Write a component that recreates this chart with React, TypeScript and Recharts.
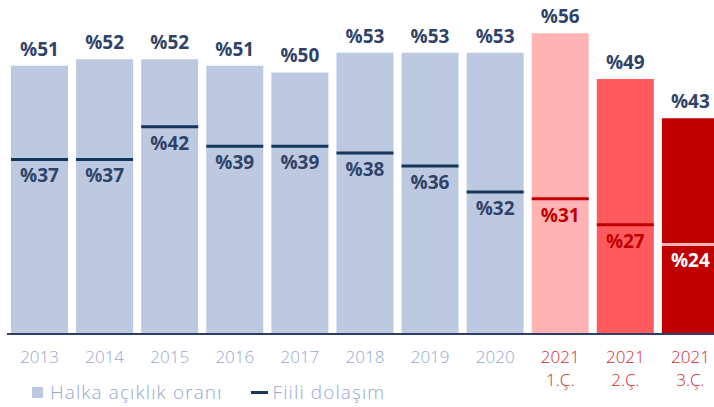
import {
  ComposedChart,
  Bar,
  Cell,
  XAxis,
  YAxis,
  LabelList,
} from "recharts";

const periods = [
  "2013",
  "2014",
  "2015",
  "2016",
  "2017",
  "2018",
  "2019",
  "2020",
  "2021\n1.Ç.",
  "2021\n2.Ç.",
  "2021\n3.Ç.",
];
const halkaAciklik = [51, 52, 52, 51, 50, 53, 53, 53, 56, 49, 43];
const fiiliDolasim = [37, 37, 42, 39, 39, 38, 36, 32, 31, 27, 24];

const NAVY = "#2f4368";
const LINE_NAVY = "#12375a";
const BLUE = "#bdc9e1";
const barColors = [BLUE, BLUE, BLUE, BLUE, BLUE, BLUE, BLUE, BLUE, "#ffb3b5", "#ff5b5f", "#c00000"];
const lineColors = [
  LINE_NAVY, LINE_NAVY, LINE_NAVY, LINE_NAVY, LINE_NAVY, LINE_NAVY, LINE_NAVY, LINE_NAVY,
  "#c00000", "#c00000", "#ffb3b5",
];
const innerLabelColors = [NAVY, NAVY, NAVY, NAVY, NAVY, NAVY, NAVY, NAVY, "#c00000", "#c00000", "#ffffff"];

const FONT = "'Open Sans', 'DejaVu Sans', sans-serif";

const data = periods.map((p, i) => ({
  name: p,
  halka: halkaAciklik[i],
  fiili: fiiliDolasim[i],
}));

function PeriodTick(props: any) {
  const { x, y, payload } = props;
  const lines = String(payload.value).split("\n");
  const isQuarter = lines.length > 1;
  return (
    <text
      x={x}
      y={y}
      textAnchor="middle"
      fill={isQuarter ? "#d3262d" : "#93a8d3"}
      fontSize={17}
      fontWeight={300}
      fontFamily={FONT}
    >
      {lines.map((l, i) => (
        <tspan key={i} x={x} dy={i === 0 ? 21 : 23}>
          {l}
        </tspan>
      ))}
    </text>
  );
}

function TopLabel(props: any) {
  const { x, y, width, value } = props;
  return (
    <text
      x={x + width / 2}
      y={y - 10}
      textAnchor="middle"
      fill={NAVY}
      fontSize={19}
      fontWeight={700}
      fontFamily={FONT}
    >
      %{value}
    </text>
  );
}

// marker line sits just under the value, like the original slide
function LineShape(props: any) {
  const { x, y, width, index } = props;
  return (
    <line
      x1={x}
      x2={x + width}
      y1={y + 2}
      y2={y + 2}
      stroke={lineColors[index]}
      strokeWidth={3}
    />
  );
}

function InnerLabel(props: any) {
  const { x, y, width, value, index } = props;
  return (
    <text
      x={x + width / 2}
      y={y + 25}
      textAnchor="middle"
      fill={innerLabelColors[index]}
      fontSize={19}
      fontWeight={700}
      fontFamily={FONT}
    >
      %{value}
    </text>
  );
}

export default function App() {
  return (
    <div
      style={{
        position: "absolute",
        left: 0,
        top: 0,
        width: 714,
        height: 407,
        overflow: "hidden",
        background: "#fff",
      }}
    >
      <ComposedChart
        width={730}
        height={407}
        data={data}
        margin={{ top: 7, right: 7, left: 7, bottom: 0 }}
      >
        <XAxis
          dataKey="name"
          height={73}
          tickLine={false}
          axisLine={{ stroke: "#2e3f63", strokeWidth: 2 }}
          tick={<PeriodTick />}
          interval={0}
        />
        <XAxis xAxisId="line" dataKey="name" hide />
        <YAxis hide domain={[10, 60]} allowDataOverflow />
        <Bar dataKey="halka" barSize={57} isAnimationActive={false}>
          {data.map((_, i) => (
            <Cell key={i} fill={barColors[i]} />
          ))}
          <LabelList dataKey="halka" content={<TopLabel />} />
        </Bar>
        <Bar
          dataKey="fiili"
          xAxisId="line"
          barSize={57}
          shape={<LineShape />}
          isAnimationActive={false}
        >
          <LabelList dataKey="fiili" content={<InnerLabel />} />
        </Bar>
      </ComposedChart>
      <div
        style={{
          position: "absolute",
          left: 32,
          top: 379,
          display: "flex",
          alignItems: "center",
          fontFamily: FONT,
          fontWeight: 300,
          fontSize: 19,
          letterSpacing: 1.1,
          color: "#93a8d3",
          whiteSpace: "nowrap",
        }}
      >
        <span style={{ width: 11, height: 11, background: BLUE, display: "inline-block" }} />
        <span style={{ marginLeft: 7 }}>Halka açıklık oranı</span>
        <span
          style={{
            width: 17,
            height: 3,
            background: LINE_NAVY,
            display: "inline-block",
            marginLeft: 28,
          }}
        />
        <span style={{ marginLeft: 5 }}>Fiili dolaşım</span>
      </div>
    </div>
  );
}
